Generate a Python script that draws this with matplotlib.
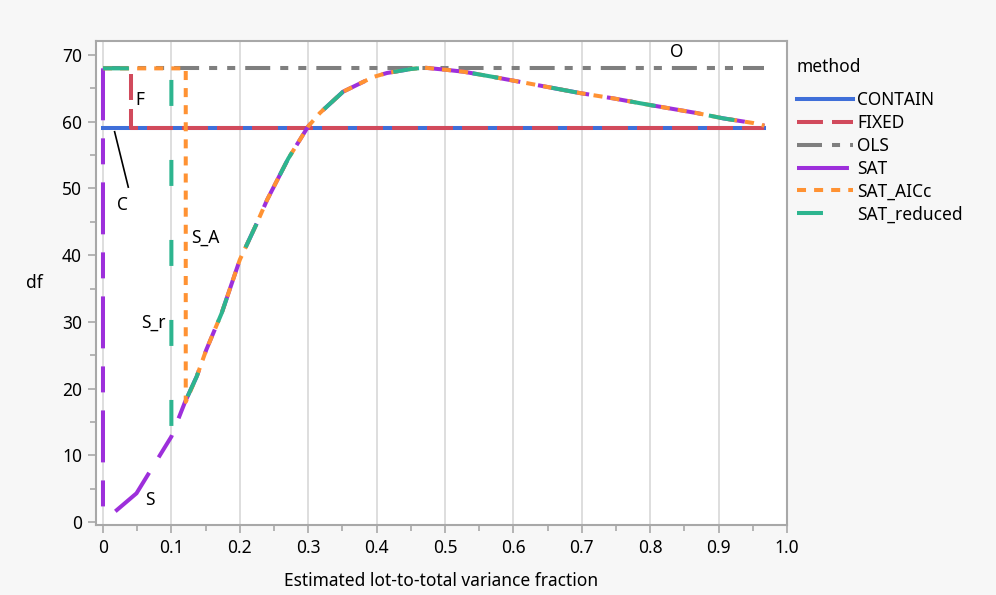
import matplotlib
matplotlib.use("Agg")
import matplotlib.pyplot as plt
from matplotlib.ticker import MultipleLocator, FuncFormatter
import numpy as np

plt.rcParams['font.family'] = ['Noto Sans', 'DejaVu Sans']
plt.rcParams['lines.scale_dashes'] = False
FS = 12.5

# shared curve for the SAT family
curve_x = [0.12, 0.137, 0.151, 0.1735, 0.2, 0.225, 0.24, 0.271, 0.3, 0.317, 0.351,
           0.395, 0.415, 0.45, 0.47, 0.5, 0.527, 0.566, 0.619, 0.697, 0.746, 0.8,
           0.868, 0.907, 0.951, 0.967]
curve_y = [18.0, 21.8, 25.8, 31.3, 39.3, 44.8, 48.3, 54.5, 59.3, 61.3, 64.5,
           66.7, 67.3, 67.9, 68.1, 67.8, 67.5, 66.8, 65.8, 64.3, 63.5, 62.5,
           61.3, 60.5, 59.8, 59.4]

contain_x = [0.0, 0.967]
contain_y = [59.0, 59.0]
fixed_x = [0.041, 0.041, 0.967]
fixed_y = [67.2, 59.0, 59.0]
ols_x = [0.0, 0.967]
ols_y = [68.0, 68.0]
sat_x = [0.0, 0.0, 0.0175, 0.049, 0.1] + curve_x
sat_y = [68.0, 1.5, 1.55, 4.3, 12.8] + curve_y
aicc_x = [0.0, 0.121, 0.121] + curve_x[1:]
aicc_y = [68.0, 68.0, 18.0] + curve_y[1:]
red_x = [0.0, 0.1, 0.1] + curve_x
red_y = [68.0, 68.0, 12.8] + curve_y

methods = ['CONTAIN', 'FIXED', 'OLS', 'SAT', 'SAT_AICc', 'SAT_reduced']
colors = ['#3f6fd9', '#d14a5c', '#7f7f7f', '#9d2fdb', '#ff9233', '#2db58f']
dashes = [None, (18.7, 6.5), (18, 7.2, 5.8, 7.2, 5.8, 7.2), (37.4, 13, 18.7, 13),
          (6.5, 5.8), (18.7, 38.9)]
series = [(contain_x, contain_y), (fixed_x, fixed_y), (ols_x, ols_y),
          (sat_x, sat_y), (aicc_x, aicc_y), (red_x, red_y)]

# direct labels
labels = ['F', 'C', 'S_A', 'S_r', 'S', 'O']
label_x = [0.054, 0.028, 0.149, 0.073, 0.069, 0.839]
label_y = [63.3, 47.5, 42.6, 29.8, 3.3, 70.5]

fig = plt.figure(figsize=(9.96, 5.95), dpi=100, facecolor='#f7f7f7')
ax = fig.add_axes([96 / 996, 70 / 595, 691 / 996, 484 / 595])
ax.set_facecolor('white')

for i, (xs, ys) in enumerate(series):
    if dashes[i] is None:
        ax.plot(xs, ys, color=colors[i], lw=2.9, label=methods[i], zorder=3 + i)
    else:
        ax.plot(xs, ys, color=colors[i], lw=2.9, label=methods[i], zorder=3 + i,
                linestyle=(0, dashes[i]))

for t, lx, ly in zip(labels, label_x, label_y):
    ax.text(lx, ly, t, fontsize=FS, ha='center', va='center', zorder=20)
# leader line for C
ax.plot([0.017, 0.037], [58.5, 50.2], color='black', lw=1.2, zorder=20)

ax.set_xlim(-0.0102, 1.0)
ax.set_ylim(-0.45, 72.1)
ax.xaxis.set_major_locator(MultipleLocator(0.1))
ax.xaxis.set_minor_locator(MultipleLocator(0.05))
ax.yaxis.set_major_locator(MultipleLocator(10))
ax.yaxis.set_minor_locator(MultipleLocator(5))
ax.xaxis.set_major_formatter(FuncFormatter(lambda v, p: '0' if abs(v) < 1e-9 else '%.1f' % v))
ax.yaxis.set_major_formatter(FuncFormatter(lambda v, p: '%d' % round(v)))
ax.grid(axis='x', which='major', color='#d8d8d8', lw=1.2, zorder=0)
ax.set_axisbelow(True)
for s in ax.spines.values():
    s.set_color('#a8a8a8')
    s.set_linewidth(1.5)
ax.tick_params(which='major', length=6, width=1.2, color='#a8a8a8', labelsize=FS, pad=4)
ax.tick_params(which='minor', length=4, width=1.2, color='#a8a8a8')

ax.set_xlabel('Estimated lot-to-total variance fraction', fontsize=FS, labelpad=11)
ax.set_ylabel('df', fontsize=FS, rotation=0, labelpad=20, va='center')

fig.text(797 / 996, 1 - 67 / 595, 'method', fontsize=FS, ha='left', va='center')
leg = fig.legend(loc='upper left', bbox_to_anchor=(797 / 996, 1 - 91 / 595), frameon=False,
                 fontsize=FS, handlelength=3.2, handletextpad=0.25, labelspacing=0.28,
                 borderpad=0.0, borderaxespad=0.0)

fig.savefig('out.png', dpi=100, facecolor=fig.get_facecolor())
